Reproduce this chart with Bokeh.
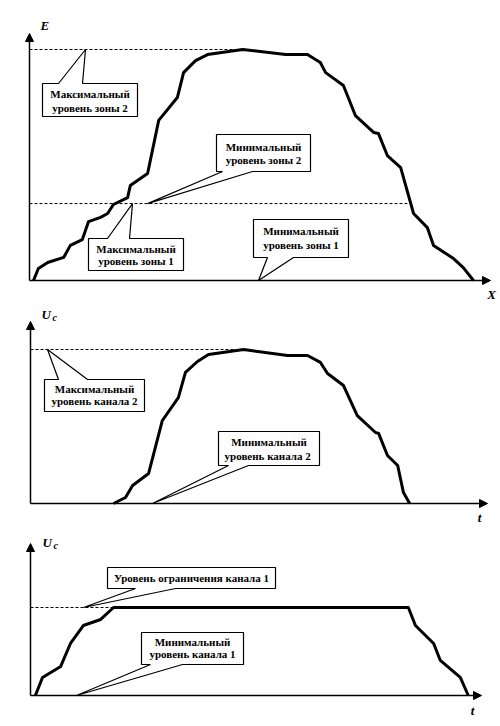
from bokeh.plotting import figure
from bokeh.layouts import column
from bokeh.models import Range1d, Arrow, NormalHead
from bokeh.core.properties import value
from bokeh.embed import file_html
from bokeh.resources import INLINE

# ---------------- data ----------------
# Panel 1: E(X), levels in % of the max level of zone 2
e_x = [0.9, 2.0, 4.1, 7.7, 9.2, 11.9, 13.3, 16.0, 17.6, 18.9, 22.1, 22.7, 26.6, 29.1,
       33.3, 34.7, 37.4, 40.1, 48.0, 57.7, 62.6, 65.5, 66.7, 70.7, 73.4, 77.5, 78.6,
       80.6, 83.6, 86.5, 89.6, 91.0, 95.5, 97.7, 100.0]
e_y = [0.0, 5.2, 7.8, 10.0, 15.2, 17.7, 25.5, 27.3, 29.0, 32.9, 35.9, 41.1, 46.3, 69.3,
       79.2, 90.0, 95.2, 97.8, 100.0, 97.8, 97.8, 94.4, 90.0, 84.4, 71.4, 64.1, 63.6,
       54.1, 48.9, 29.0, 22.9, 15.2, 9.5, 5.6, 0.0]
E_MAX = 100.0
E_ZONE = 33.3
E_MAX_X = 48.0        # end of dashed max line (peak)
E_ZONE_X = 85.1       # end of dashed zone line (right crossing)

# Panel 2: Uc(t), channel 2
u2_x = [18.7, 21.4, 23.0, 26.6, 29.7, 33.3, 34.9, 37.6, 40.1, 48.0, 57.9, 62.4, 65.3,
        66.9, 70.5, 73.6, 77.7, 78.4, 80.4, 82.7, 84.0, 85.4]
u2_y = [0.0, 3.9, 11.7, 19.5, 53.9, 68.8, 85.1, 92.2, 96.8, 100.0, 96.1, 96.1, 91.6,
        84.4, 76.6, 57.1, 46.1, 45.5, 31.2, 24.7, 7.1, 0.0]
U2_MAX = 100.0
U2_MAX_X = 48.0

# Panel 3: Uc(t), channel 1 (limited)
u1_x = [1.1, 2.7, 6.8, 9.0, 11.9, 15.8, 18.7, 85.1, 86.7, 90.8, 92.3, 96.8, 98.6]
u1_y = [0.0, 20.5, 33.0, 59.1, 79.5, 86.4, 100.0, 100.0, 79.5, 59.1, 39.8, 20.5, 0.0]
U1_LIM = 100.0
U1_LIM_X = 18.7

axis_names = [("E", "", "X"), ("U", "c", "t"), ("U", "c", "t")]

# ---------------- layout ----------------
W = 500
PANELS = [
    dict(h=305, top=0, ox=29, oy=280, sx=4.44, sy=2.31, ytop=33, xend=490,
         ylab=(40, 25), xlab=(491, 294)),
    dict(h=222, top=305, ox=30, oy=503 - 305, sx=4.44, sy=1.54, ytop=321, xend=487,
         ylab=(41, 314), xlab=(479, 517)),
    dict(h=199, top=527, ox=30, oy=695 - 527, sx=4.44, sy=0.88, ytop=543, xend=481,
         ylab=(42, 542), xlab=(472, 710)),
]

FONT = value("Liberation Serif")


def dx(pan, px):
    return (px - pan["ox"]) / pan["sx"]


def dy(pan, py):
    return (pan["oy"] - (py - pan["top"])) / pan["sy"]


def make_fig(pan):
    x0 = -pan["ox"] / pan["sx"]
    x1 = (W - pan["ox"]) / pan["sx"]
    y0 = -(pan["h"] - pan["oy"]) / pan["sy"]
    y1 = pan["oy"] / pan["sy"]
    p = figure(width=W, height=pan["h"], x_range=Range1d(x0, x1), y_range=Range1d(y0, y1),
               x_axis_type=None, y_axis_type=None, toolbar_location=None,
               output_backend="svg", min_border=0)
    p.outline_line_color = None
    p.background_fill_color = "white"
    p.border_fill_color = "white"
    return p


def axes(p, pan, names):
    head = dict(size=8, fill_color="black", line_color="black")
    p.add_layout(Arrow(end=NormalHead(**head), x_start=0, y_start=0,
                       x_end=dx(pan, pan["xend"]), y_end=0, line_width=1.5, line_color="black"))
    p.add_layout(Arrow(end=NormalHead(**head), x_start=0, y_start=0,
                       x_end=0, y_end=dy(pan, pan["ytop"]), line_width=1.5, line_color="black"))
    main, sub, xn = names
    lx, ly = pan["ylab"]
    p.text(x=[dx(pan, lx)], y=[dy(pan, ly)], text=[main], text_font=FONT,
           text_font_style="bold italic", text_font_size="13px",
           text_align="left", text_baseline="middle", text_color="black")
    if sub:
        p.text(x=[dx(pan, lx + 11)], y=[dy(pan, ly + 3)], text=[sub], text_font=FONT,
               text_font_style="bold italic", text_font_size="10px",
               text_align="left", text_baseline="middle", text_color="black")
    xx, xy = pan["xlab"]
    p.text(x=[dx(pan, xx)], y=[dy(pan, xy)], text=[xn], text_font=FONT,
           text_font_style="bold italic", text_font_size="13px",
           text_align="center", text_baseline="middle", text_color="black")


def callout(p, pan, box, edge, b1, b2, tip_px, tip_level, lines, line_ys):
    l, t, r, b = box
    tx = dx(pan, tip_px)
    if edge == "top":
        pts = [(l, t), (b1, t), None, (b2, t), (r, t), (r, b), (l, b)]
    else:
        pts = [(l, t), (r, t), (r, b), (b2, b), None, (b1, b), (l, b)]
    xs, ys = [], []
    for pt in pts:
        if pt is None:
            xs.append(tx)
            ys.append(tip_level)
        else:
            xs.append(dx(pan, pt[0]))
            ys.append(dy(pan, pt[1]))
    p.patch(xs, ys, fill_color="white", line_color="black", line_width=1.2)
    cx = (l + r) / 2
    p.text(x=[dx(pan, cx)] * len(lines), y=[dy(pan, yy) for yy in line_ys], text=lines,
           text_font=FONT, text_font_style="bold", text_font_size="11px",
           text_align="center", text_baseline="middle", text_color="black")


figs = []

# ---- panel 1 ----
pan = PANELS[0]
p1 = make_fig(pan)
p1.line([0, E_MAX_X], [E_MAX, E_MAX], line_dash="3 2", line_color="black", line_width=1)
p1.line([0, E_ZONE_X], [E_ZONE, E_ZONE], line_dash="3 2", line_color="black", line_width=1)
p1.line(e_x, e_y, line_color="black", line_width=3, line_join="round")
axes(p1, pan, axis_names[0])
callout(p1, pan, (42, 83, 137, 116), "top", 58, 82, 85, E_MAX,
        ["Максимальный", "уровень зоны 2"], [93, 107])
callout(p1, pan, (216, 134, 310, 171), "bottom", 222, 252, 147, E_ZONE,
        ["Минимальный", "уровень зоны 2"], [146, 159])
callout(p1, pan, (88, 238, 183, 270), "top", 107, 129, 132, E_ZONE,
        ["Максимальный", "уровень зоны 1"], [248, 260])
callout(p1, pan, (253, 219, 348, 257), "bottom", 267, 293, 258, 0,
        ["Минимальный", "уровень зоны 1"], [230, 244])
figs.append(p1)

# ---- panel 2 ----
pan = PANELS[1]
p2 = make_fig(pan)
p2.line([0, U2_MAX_X], [U2_MAX, U2_MAX], line_dash="3 2", line_color="black", line_width=1)
p2.line(u2_x, u2_y, line_color="black", line_width=3, line_join="round")
axes(p2, pan, axis_names[1])
callout(p2, pan, (44, 379, 144, 411), "top", 58, 87, 47, U2_MAX,
        ["Максимальный", "уровень канала 2"], [388, 400])
callout(p2, pan, (218, 431, 319, 465), "bottom", 228, 248, 152, 0,
        ["Минимальный", "уровень  канала 2"], [441, 455])
figs.append(p2)

# ---- panel 3 ----
pan = PANELS[2]
p3 = make_fig(pan)
p3.line([0, U1_LIM_X], [U1_LIM, U1_LIM], line_dash="3 2", line_color="black", line_width=1)
p3.line(u1_x, u1_y, line_color="black", line_width=3, line_join="round")
axes(p3, pan, axis_names[2])
callout(p3, pan, (107, 567, 275, 588), "bottom", 135, 175, 83, U1_LIM,
        ["Уровень ограничения канала 1"], [577])
callout(p3, pan, (141, 632, 243, 664), "bottom", 150, 182, 76, 0,
        ["Минимальный", "уровень канала 1"], [641, 653])
figs.append(p3)

layout = column(*figs, spacing=0)
open("out.html", "w").write(file_html(layout, INLINE))
